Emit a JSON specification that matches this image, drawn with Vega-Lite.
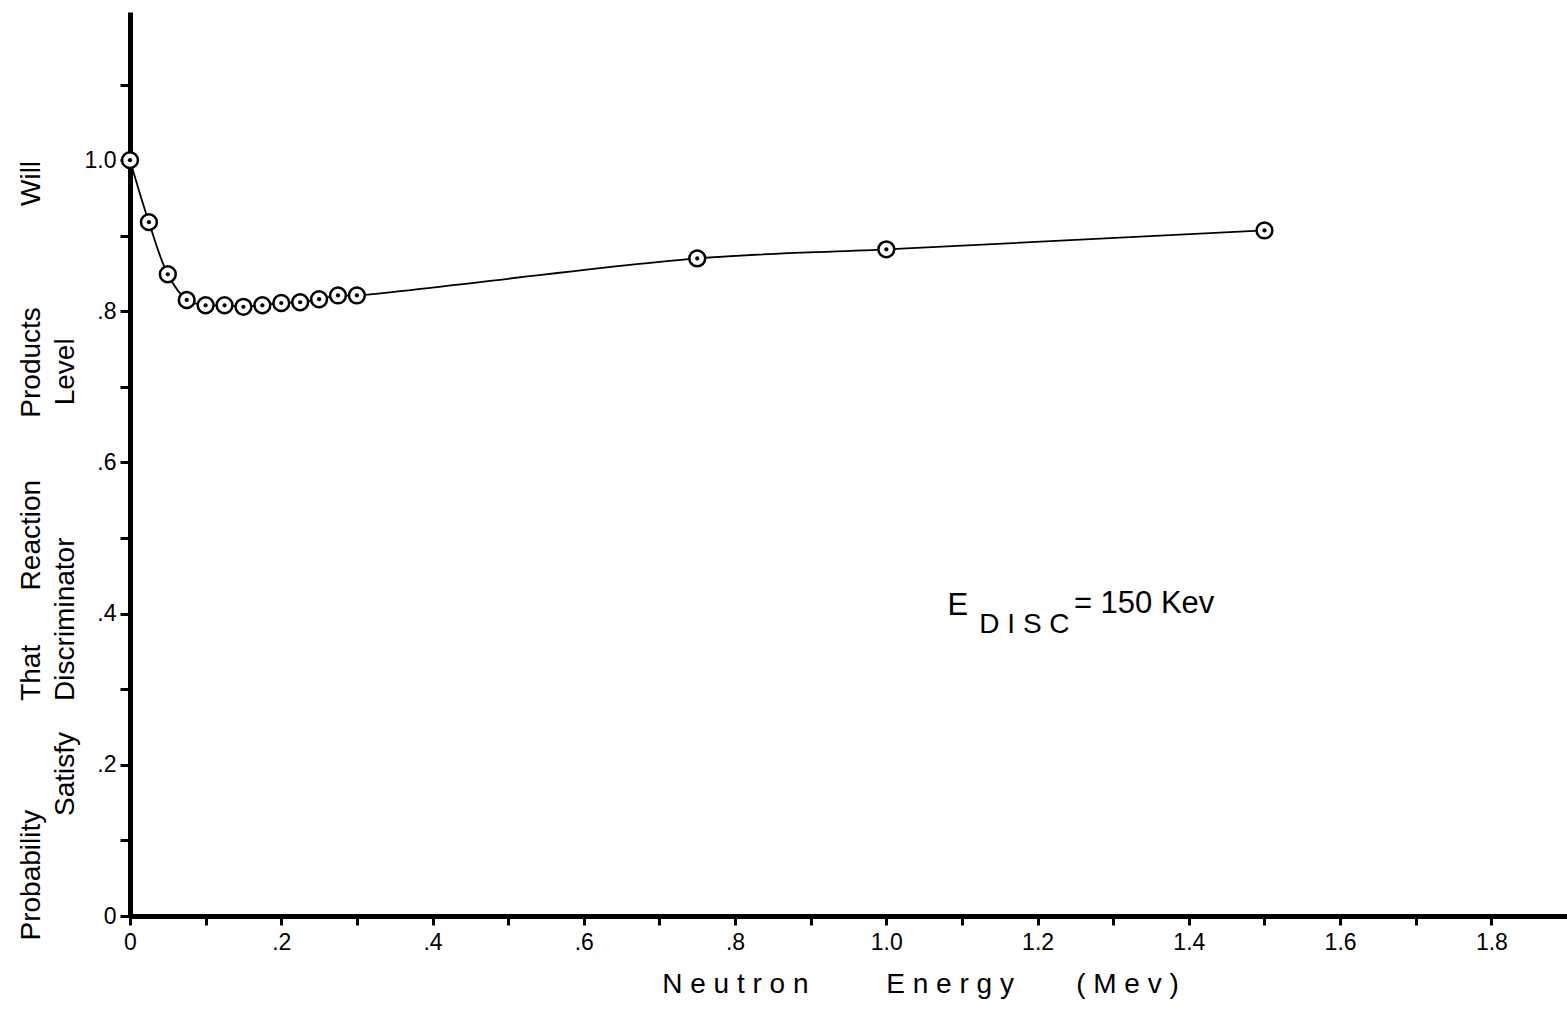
{
  "$schema": "https://vega.github.io/schema/vega-lite/v6.json",
  "width": 1437,
  "height": 904,
  "autosize": {"type": "none"},
  "padding": {"left": 130, "top": 12, "right": 0, "bottom": 93},
  "background": "white",
  "config": {
    "view": {"stroke": null},
    "font": "Liberation Sans",
    "axis": {
      "grid": false,
      "domainColor": "black",
      "domainWidth": 5,
      "tickColor": "black",
      "tickWidth": 3,
      "labelColor": "black",
      "titleColor": "black",
      "labelFont": "Liberation Sans",
      "titleFont": "Liberation Sans",
      "labelFontWeight": "normal",
      "titleFontWeight": "normal"
    }
  },
  "layer": [
    {
      "data": {"name": "curve"},
      "mark": {"type": "line", "interpolate": "catmull-rom", "color": "black", "strokeWidth": 1.8},
      "encoding": {
        "x": {
          "field": "energy", "type": "quantitative",
          "scale": {"domain": [0, 1.9], "nice": false, "zero": false},
          "axis": {
            "values": [0, 0.1, 0.2, 0.3, 0.4, 0.5, 0.6, 0.7, 0.8, 0.9, 1.0, 1.1, 1.2, 1.3, 1.4, 1.5, 1.6, 1.7, 1.8],
            "labelExpr": "round(datum.value*10) % 2 == 1 ? '' : (datum.value == 0 ? '0' : (datum.value < 1 ? replace(format(datum.value, '.1f'), '0.', '.') : format(datum.value, '.1f')))",
            "tickSize": 9,
            "labelPadding": 6,
            "labelFontSize": 23,
            "labelFlush": false,
            "title": "N e u t r o n\u00a0\u00a0\u00a0\u00a0\u00a0\u00a0\u00a0\u00a0\u00a0 E n e r g y\u00a0\u00a0\u00a0\u00a0\u00a0\u00a0\u00a0 ( M e v )",
            "titleFontSize": 28,
            "titleX": 790,
            "titleY": 76,
            "titleAlign": "center",
            "titleBaseline": "alphabetic"
          }
        },
        "y": {
          "field": "probability", "type": "quantitative",
          "scale": {"domain": [0, 1.196], "nice": false, "zero": false},
          "axis": {
            "values": [0, 0.1, 0.2, 0.3, 0.4, 0.5, 0.6, 0.7, 0.8, 0.9, 1.0, 1.1],
            "labelExpr": "round(datum.value*10) % 2 == 1 ? '' : (datum.value == 0 ? '0' : (datum.value < 1 ? replace(format(datum.value, '.1f'), '0.', '.') : format(datum.value, '.1f')))",
            "tickSize": 10,
            "labelPadding": 4,
            "labelFontSize": 23,
            "labelFlush": false,
            "title": [
              "Probability\u00a0\u00a0\u00a0\u00a0\u00a0\u00a0\u00a0\u00a0\u00a0\u00a0\u00a0\u00a0\u00a0\u00a0That\u00a0\u00a0\u00a0\u00a0\u00a0\u00a0\u00a0Reaction\u00a0\u00a0\u00a0\u00a0\u00a0\u00a0\u00a0\u00a0Products\u00a0\u00a0\u00a0\u00a0\u00a0\u00a0\u00a0\u00a0\u00a0\u00a0\u00a0\u00a0\u00a0Will",
              "\u200b\u00a0\u00a0\u00a0\u00a0\u00a0\u00a0\u00a0\u00a0\u00a0\u00a0\u00a0\u00a0\u00a0\u00a0\u00a0\u00a0Satisfy\u00a0\u00a0\u00a0\u00a0Discriminator\u00a0\u00a0\u00a0\u00a0\u00a0\u00a0\u00a0\u00a0\u00a0\u00a0\u00a0\u00a0\u00a0\u00a0\u00a0\u00a0\u00a0Level"
            ],
            "titleFontSize": 28,
            "titleLineHeight": 34,
            "titleAngle": -90,
            "titleX": -99,
            "titleY": 928,
            "titleAlign": "left",
            "titleBaseline": "middle"
          }
        }
      }
    },
    {
      "data": {"name": "curve"},
      "mark": {"type": "point", "shape": "circle", "filled": true, "fill": "white", "stroke": "black", "strokeWidth": 2.5, "size": 250, "opacity": 1},
      "encoding": {
        "x": {"field": "energy", "type": "quantitative"},
        "y": {"field": "probability", "type": "quantitative"}
      }
    },
    {
      "data": {"name": "curve"},
      "mark": {"type": "point", "shape": "circle", "filled": true, "color": "black", "size": 18, "opacity": 1},
      "encoding": {
        "x": {"field": "energy", "type": "quantitative"},
        "y": {"field": "probability", "type": "quantitative"}
      }
    },
    {
      "data": {"values": [
        {"energy": 1.081, "probability": 0.398, "label": "E"},
        {"energy": 1.248, "probability": 0.401, "label": "=\u00a0150\u00a0Kev"}
      ]},
      "mark": {"type": "text", "align": "left", "baseline": "alphabetic", "fontSize": 31, "font": "Liberation Sans", "color": "black"},
      "encoding": {
        "x": {"field": "energy", "type": "quantitative"},
        "y": {"field": "probability", "type": "quantitative"},
        "text": {"field": "label"}
      }
    },
    {
      "data": {"values": [
        {"energy": 1.123, "probability": 0.374, "label": "D I S C"}
      ]},
      "mark": {"type": "text", "align": "left", "baseline": "alphabetic", "fontSize": 28, "font": "Liberation Sans", "color": "black"},
      "encoding": {
        "x": {"field": "energy", "type": "quantitative"},
        "y": {"field": "probability", "type": "quantitative"},
        "text": {"field": "label"}
      }
    }
  ],
  "datasets": {
    "curve": [
      {"energy": 0.0, "probability": 1.0},
      {"energy": 0.025, "probability": 0.918},
      {"energy": 0.05, "probability": 0.849},
      {"energy": 0.075, "probability": 0.815},
      {"energy": 0.1, "probability": 0.808},
      {"energy": 0.125, "probability": 0.808},
      {"energy": 0.15, "probability": 0.806},
      {"energy": 0.175, "probability": 0.808},
      {"energy": 0.2, "probability": 0.811},
      {"energy": 0.225, "probability": 0.812},
      {"energy": 0.25, "probability": 0.816},
      {"energy": 0.275, "probability": 0.821},
      {"energy": 0.3, "probability": 0.821},
      {"energy": 0.75, "probability": 0.870},
      {"energy": 1.0, "probability": 0.882},
      {"energy": 1.5, "probability": 0.907}
    ]
  }
}
